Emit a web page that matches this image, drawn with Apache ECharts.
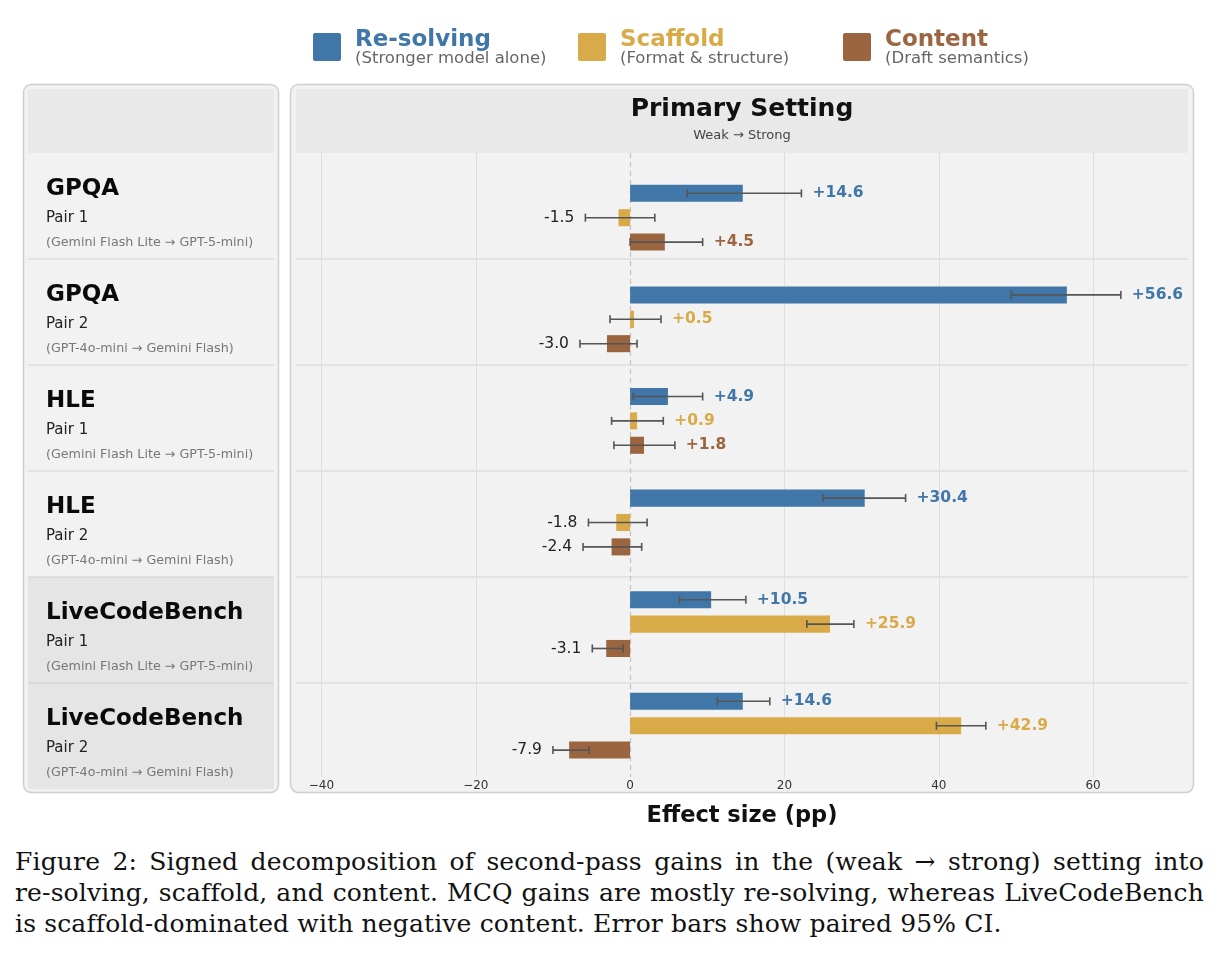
<!DOCTYPE html>
<html>
<head>
<meta charset="utf-8">
<title>Signed decomposition</title>
<script src="https://cdn.jsdelivr.net/npm/echarts@6/dist/echarts.min.js"></script>
<style>
  html, body { margin: 0; padding: 0; background: #fff; }
  #chart { position: absolute; left: 0; top: 0; width: 1219px; height: 840px; }
  #caption {
    position: absolute; left: 15px; top: 846px; width: 1189px;
    font-family: 'DejaVu Serif', 'Liberation Serif', serif;
    font-size: 25px; letter-spacing: 0.15px; line-height: 31px; color: #111;
  }
  #caption div { white-space: nowrap; }
  #caption .j { text-align: justify; text-align-last: justify; }
</style>
</head>
<body>
<div id="chart"></div>
<div id="caption">
  <div class="j">Figure 2: Signed decomposition of second-pass gains in the (weak → strong) setting into</div>
  <div class="j">re-solving, scaffold, and content. MCQ gains are mostly re-solving, whereas LiveCodeBench</div>
  <div>is scaffold-dominated with negative content. Error bars show paired 95% CI.</div>
</div>
<script>
// rows, top to bottom
const datasets = ['GPQA', 'GPQA', 'HLE', 'HLE', 'LiveCodeBench', 'LiveCodeBench']
const pairs = ['Pair 1', 'Pair 2', 'Pair 1', 'Pair 2', 'Pair 1', 'Pair 2']
const modelPairs = [
  '(Gemini Flash Lite → GPT-5-mini)',
  '(GPT-4o-mini → Gemini Flash)',
  '(Gemini Flash Lite → GPT-5-mini)',
  '(GPT-4o-mini → Gemini Flash)',
  '(Gemini Flash Lite → GPT-5-mini)',
  '(GPT-4o-mini → Gemini Flash)'
]

// effect sizes (pp) and 95% CI bounds
const resolving = [14.6, 56.6, 4.9, 30.4, 10.5, 14.6]
const resolvingLo = [7.4, 49.4, 0.4, 25.0, 6.4, 11.3]
const resolvingHi = [22.2, 63.6, 9.4, 35.7, 15.0, 18.1]

const scaffold = [-1.5, 0.5, 0.9, -1.8, 25.9, 42.9]
const scaffoldLo = [-5.8, -2.6, -2.4, -5.4, 22.9, 39.7]
const scaffoldHi = [3.2, 4.0, 4.3, 2.2, 29.0, 46.1]

const content = [4.5, -3.0, 1.8, -2.4, -3.1, -7.9]
const contentLo = [0.0, -6.5, -2.1, -6.1, -4.9, -10.0]
const contentHi = [9.4, 0.9, 5.8, 1.5, -0.9, -5.3]

const xTicks = [-40, -20, 0, 20, 40, 60]

const legendNames = ['Re-solving', 'Scaffold', 'Content']
const legendNotes = ['(Stronger model alone)', '(Format & structure)', '(Draft semantics)']
const COLORS = ['#4176a8', '#d8ab48', '#9b6540']

// layout
const FONT = '"DejaVu Sans", sans-serif'
const ROW_TOP = 153
const ROW_H = 106
const PLOT_L = 296
const PLOT_R = 1188
const PLOT_BOTTOM = 777
const BAR_H = 0.168        // in row units
const BAR_OFFSET = 0.24    // spacing between the three bars of a row

function makeRenderer(offset, color) {
  return function (params, api) {
    const v = api.value(0)
    const g = api.value(1)
    const lo = api.value(2)
    const hi = api.value(3)
    const y = g + offset
    const base = api.coord([0, y])
    const end = api.coord([v, y])
    const pLo = api.coord([lo, y])
    const pHi = api.coord([hi, y])
    const h = api.size([0, BAR_H])[1]
    const cy = base[1]
    const pos = v >= 0
    const labelX = pos ? Math.max(pHi[0], end[0]) + 11 : Math.min(pLo[0], end[0]) - 11
    const cap = 4
    const err = { stroke: '#555', lineWidth: 1.6 }
    return {
      type: 'group',
      children: [
        {
          type: 'rect',
          shape: { x: Math.min(base[0], end[0]), y: cy - h / 2, width: Math.abs(end[0] - base[0]), height: h },
          style: { fill: color }
        },
        { type: 'line', shape: { x1: pLo[0], y1: cy, x2: pHi[0], y2: cy }, style: err },
        { type: 'line', shape: { x1: pLo[0], y1: cy - cap, x2: pLo[0], y2: cy + cap }, style: err },
        { type: 'line', shape: { x1: pHi[0], y1: cy - cap, x2: pHi[0], y2: cy + cap }, style: err },
        {
          type: 'text',
          x: labelX,
          y: cy,
          style: {
            text: pos ? '+' + v.toFixed(1) : v.toFixed(1),
            fill: pos ? color : '#222',
            fontFamily: FONT,
            fontSize: 15.5,
            fontWeight: pos ? 'bold' : 'normal',
            align: pos ? 'left' : 'right',
            verticalAlign: 'middle'
          }
        }
      ]
    }
  }
}

function rows(vals, lo, hi) {
  return vals.map((v, i) => [v, i, lo[i], hi[i]])
}

// panels, headers, row labels, legend
const graphics = []

graphics.push({
  type: 'rect', z: 0,
  shape: { x: 23.5, y: 84.5, width: 255, height: 708, r: 8 },
  style: { fill: '#f2f2f2', stroke: '#cfcfcf', lineWidth: 1.5 }
})
graphics.push({
  type: 'rect', z: 0,
  shape: { x: 290.5, y: 84.5, width: 903, height: 708, r: 8 },
  style: { fill: '#f2f2f2', stroke: '#cfcfcf', lineWidth: 1.5 }
})
graphics.push({ type: 'rect', z: 0, shape: { x: 28, y: 89, width: 246, height: 64 }, style: { fill: '#e9e9e9' } })
graphics.push({ type: 'rect', z: 0, shape: { x: PLOT_L, y: 89, width: PLOT_R - PLOT_L, height: 64 }, style: { fill: '#e9e9e9' } })
graphics.push({
  type: 'text', z: 1, x: 742, y: 109,
  style: { text: 'Primary Setting', fontFamily: FONT, fontSize: 25, fontWeight: 'bold', fill: '#111', align: 'center', verticalAlign: 'middle' }
})
graphics.push({
  type: 'text', z: 1, x: 742, y: 136,
  style: { text: 'Weak → Strong', fontFamily: FONT, fontSize: 13, fill: '#444', align: 'center', verticalAlign: 'middle' }
})

datasets.forEach((name, i) => {
  const top = ROW_TOP + i * ROW_H
  // LiveCodeBench rows are shaded darker
  if (name === 'LiveCodeBench') {
    graphics.push({ type: 'rect', z: 0, shape: { x: 28, y: top, width: 246, height: i === 5 ? 636 - 5 * ROW_H : ROW_H }, style: { fill: '#e5e5e5' } })
  }
  if (i > 0) {
    graphics.push({ type: 'line', z: 1, shape: { x1: 28, y1: top, x2: 274, y2: top }, style: { stroke: '#d2d2d2', lineWidth: 1.2 } })
    graphics.push({ type: 'line', z: 1, shape: { x1: PLOT_L, y1: top, x2: PLOT_R, y2: top }, style: { stroke: '#d2d2d2', lineWidth: 1.2 } })
  }
  graphics.push({
    type: 'text', z: 2, x: 46, y: top + 36,
    style: { text: name, fontFamily: FONT, fontSize: 23, fontWeight: 'bold', fill: '#0a0a0a', verticalAlign: 'middle' }
  })
  graphics.push({
    type: 'text', z: 2, x: 46, y: top + 65,
    style: { text: pairs[i], fontFamily: FONT, fontSize: 15, fill: '#222', verticalAlign: 'middle' }
  })
  graphics.push({
    type: 'text', z: 2, x: 46, y: top + 90,
    style: { text: modelPairs[i], fontFamily: FONT, fontSize: 12.7, fill: '#777', verticalAlign: 'middle' }
  })
})

const legendX = [313, 578, 843]
legendNames.forEach((name, i) => {
  graphics.push({ type: 'rect', z: 2, shape: { x: legendX[i], y: 33, width: 28, height: 28, r: 2 }, style: { fill: COLORS[i] } })
  graphics.push({
    type: 'text', z: 2, x: legendX[i] + 42, y: 40,
    style: { text: name, fontFamily: FONT, fontSize: 23, fontWeight: 'bold', fill: COLORS[i], verticalAlign: 'middle' }
  })
  graphics.push({
    type: 'text', z: 2, x: legendX[i] + 42, y: 59,
    style: { text: legendNotes[i], fontFamily: FONT, fontSize: 16.5, fill: '#666', verticalAlign: 'middle' }
  })
})

// y position of row centers: row 0 at 217.7px, row pitch 101.6px
const Y_MIN = (ROW_TOP - 217.7) / 101.6
const Y_MAX = (PLOT_BOTTOM - 217.7) / 101.6

const chart = echarts.init(document.getElementById('chart'))

const option = {
  animation: false,
  backgroundColor: 'transparent',
  graphic: { elements: graphics },
  grid: { left: PLOT_L, right: 1219 - PLOT_R, top: ROW_TOP, bottom: 840 - PLOT_BOTTOM },
  xAxis: {
    type: 'value',
    min: -43.3,
    max: 72.3,
    axisLine: { show: false },
    axisTick: { show: false },
    splitLine: { show: false },
    axisLabel: {
      customValues: xTicks,
      margin: 3,
      fontFamily: FONT,
      fontSize: 12,
      color: '#333',
      formatter: v => (v < 0 ? '\u2212' + Math.abs(v) : String(v))
    },
    name: 'Effect size (pp)',
    nameLocation: 'middle',
    nameGap: 28,
    nameTextStyle: { fontFamily: FONT, fontSize: 22.5, fontWeight: 'bold', color: '#111' }
  },
  yAxis: { type: 'value', inverse: true, min: Y_MIN, max: Y_MAX, show: false },
  series: [
    {
      // grid lines and dashed zero line
      type: 'line',
      data: [],
      z: 3,
      silent: true,
      markLine: {
        silent: true,
        symbol: 'none',
        label: { show: false },
        lineStyle: { color: '#dedede', width: 1, type: 'solid' },
        data: xTicks.map(t => t === 0
          ? { xAxis: t, lineStyle: { color: '#c6c6c6', width: 1.3, type: [5, 4] } }
          : { xAxis: t })
      }
    },
    {
      name: legendNames[0], type: 'custom', z: 10, clip: false,
      encode: { x: 0, y: 1 },
      renderItem: makeRenderer(-BAR_OFFSET, COLORS[0]),
      data: rows(resolving, resolvingLo, resolvingHi)
    },
    {
      name: legendNames[1], type: 'custom', z: 10, clip: false,
      encode: { x: 0, y: 1 },
      renderItem: makeRenderer(0, COLORS[1]),
      data: rows(scaffold, scaffoldLo, scaffoldHi)
    },
    {
      name: legendNames[2], type: 'custom', z: 10, clip: false,
      encode: { x: 0, y: 1 },
      renderItem: makeRenderer(BAR_OFFSET, COLORS[2]),
      data: rows(content, contentLo, contentHi)
    }
  ]
}

chart.setOption(option)
</script>
</body>
</html>
